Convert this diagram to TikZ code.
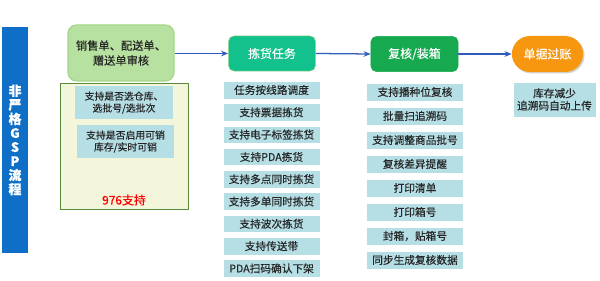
\documentclass[tikz,border=0pt]{standalone}
\usepackage{fontspec}
\setmainfont{Noto Sans CJK SC}[FakeBold=0.3]
\usetikzlibrary{arrows.meta,shadows}

\definecolor{barblue}{HTML}{0F6FC6}
\definecolor{linkblue}{HTML}{2F5BBF}
\definecolor{auditgreen}{HTML}{B7E1A1}
\definecolor{auditline}{HTML}{A4D68A}
\definecolor{panelfill}{HTML}{F3F6DA}
\definecolor{panelline}{HTML}{5A8A3C}
\definecolor{itemblue}{HTML}{B5DEE5}
\definecolor{pickgreen}{HTML}{12C18B}
\definecolor{checkgreen}{HTML}{17A94F}
\definecolor{postorange}{HTML}{F7970F}
\definecolor{textdark}{HTML}{262626}

\begin{document}
\begin{tikzpicture}[
  x=0.025cm, y=-0.025cm,
  >={Stealth[length=5pt,width=4pt]},
  font=\fontsize{7.6}{8.5}\selectfont,
  head/.style={rounded corners=4pt,text=white,font=\fontsize{8.5}{10}\selectfont,
    minimum width=2.18cm,minimum height=.88cm,inner sep=0pt},
  item/.style={draw=white,fill=itemblue,text=textdark,inner sep=0pt,
    minimum width=2.43cm,minimum height=.44cm},
  note/.style={fill=itemblue,text=textdark,align=center,inner sep=0pt,
    font=\fontsize{7}{8.5}\selectfont,minimum width=2.44cm,minimum height=.83cm},
  link/.style={->,linkblue,line width=.9pt}
]
  \useasboundingbox (0,0) rectangle (600,281);

  % Side bar.
  \node[fill=barblue,text=white,align=center,inner sep=0pt,
    minimum width=.65cm,minimum height=5.65cm,
    font=\bfseries\fontsize{9.2}{10}\selectfont] (side) at (15,140)
    {非\\严\\格\\G\\S\\P\\流\\程};

  % Audit step and its panel.
  \node[draw=panelline,fill=panelfill,line width=.8pt,
    minimum width=3.22cm,minimum height=3.17cm] (panel) at (124.5,146.5) {};
  \node[draw=auditline,fill=auditgreen,line width=.8pt,rounded corners=6pt,
    text=textdark,align=center,font=\fontsize{8}{10.6}\selectfont,
    minimum width=2.65cm,minimum height=1.4cm] (audit) at (121,53)
    {销售单、配送单、\\赠送单审核};
  \node[note] (note1) at (124,102.5) {支持是否选仓库、\\选批号/选批次};
  \node[note] (note2) at (125.5,141.5) {支持是否启用可销\\库存/实时可销};
  \node[text=red,font=\fontsize{8.5}{10}\selectfont] (tag) at (124,200) {976支持};

  % Main flow.
  \node[head,fill=pickgreen,draw=auditline] (pick) at (272,53.5) {拣货任务};
  \node[head,fill=checkgreen,draw=checkgreen] (check) at (414.5,54) {复核/装箱};
  \node[head,fill=postorange,rounded corners=.45cm,minimum width=1.78cm,
    minimum height=.9cm,drop shadow={opacity=.35,shadow xshift=1pt,shadow yshift=-1pt}]
    (post) at (547.5,54) {单据过账};
  \draw[link] (audit.east |- pick.west) -- (pick.west);
  \draw[link] (pick.east) -- (check.west);
  \draw[link] (check.east) -- (post.west);

  % Picking features.
  \node[item] (pick1) at (271.5,90) {任务按线路调度};
  \node[item] (pick2) at (271.5,112.3) {支持票据拣货};
  \node[item] (pick3) at (271.5,134.6) {支持电子标签拣货};
  \node[item] (pick4) at (271.5,156.9) {支持PDA拣货};
  \node[item] (pick5) at (271.5,179.2) {支持多点同时拣货};
  \node[item] (pick6) at (271.5,201.5) {支持多单同时拣货};
  \node[item] (pick7) at (271.5,223.8) {支持波次拣货};
  \node[item] (pick8) at (271.5,246.1) {支持传送带};
  \node[item] (pick9) at (271.5,268.4) {PDA扫码确认下架};

  % Checking features.
  \node[item] (check1) at (415,92) {支持播种位复核};
  \node[item] (check2) at (415,116) {批量扫追溯码};
  \node[item] (check3) at (415,140) {支持调整商品批号};
  \node[item] (check4) at (415,164) {复核差异提醒};
  \node[item] (check5) at (415,188) {打印清单};
  \node[item] (check6) at (415,212) {打印箱号};
  \node[item] (check7) at (415,236) {封箱，贴箱号};
  \node[item] (check8) at (415,260) {同步生成复核数据};

  % Posting result.
  \node[item,align=center,minimum width=2.08cm,minimum height=.88cm,
    font=\fontsize{7.6}{8.8}\selectfont] (result) at (554.5,99.5)
    {库存减少\\追溯码自动上传};
\end{tikzpicture}
\end{document}
